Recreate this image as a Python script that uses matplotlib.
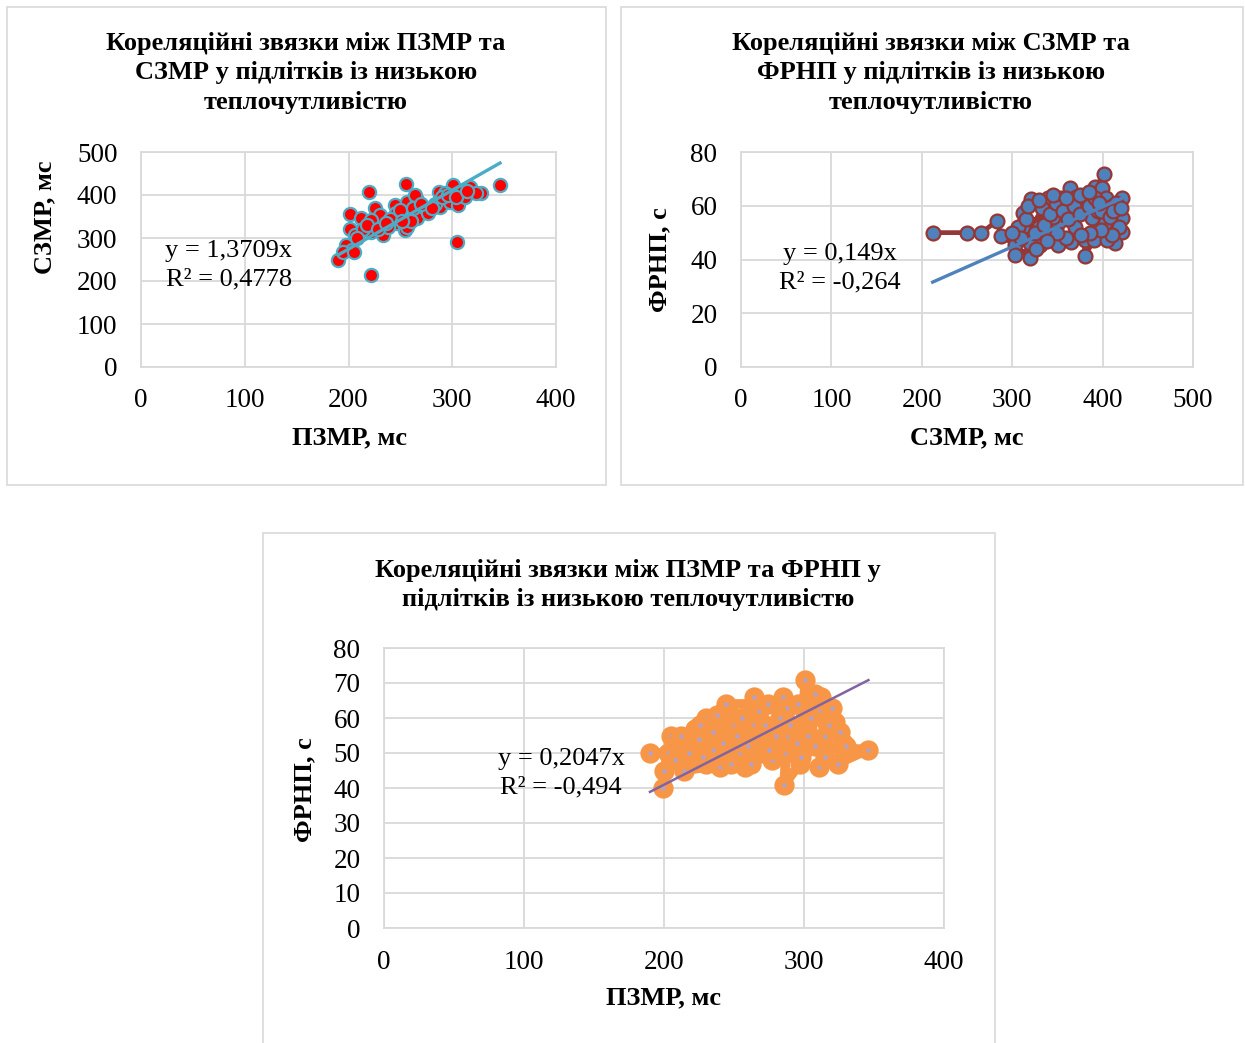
import matplotlib
matplotlib.use("Agg")
import matplotlib.pyplot as plt
from matplotlib.patches import Rectangle
import numpy as np

plt.rcParams['font.family'] = ['Liberation Serif', 'DejaVu Serif']

# ---------------- data ----------------
# Chart 1: ПЗМР (x) vs СЗМР (y)
pzmr_1 = [190, 222, 220, 255, 346, 305, 201, 201, 198, 203, 212, 206, 226, 230, 222,
          233, 245, 246, 246, 254, 256, 266, 264, 266, 277, 288, 287, 298, 301, 306,
          309, 317, 328, 323, 293, 214, 222, 195, 205, 256, 238, 260, 283, 312,
          218, 228, 240, 250, 262, 270, 280, 290, 296, 304, 314, 236, 208, 252]
szmr_1 = [250, 214, 407, 426, 423, 290, 355, 322, 284, 272, 346, 307, 369, 353, 315,
          307, 377, 357, 334, 319, 384, 388, 400, 346, 357, 373, 408, 384, 423, 377,
          408, 419, 404, 404, 404, 322, 341, 268, 268, 326, 326, 340, 380, 395,
          330, 320, 345, 365, 370, 378, 370, 395, 400, 395, 410, 335, 300, 340]
slope_1 = 1.3709
r2_1 = "0,4778"

# Chart 2: СЗМР (x) vs ФРНП (y)
szmr_2 = [212, 250, 266, 283, 288, 303, 320, 312, 321, 340, 303, 331, 354, 364, 371,
          380, 312, 392, 402, 399, 404, 421, 421, 421, 414, 403, 380, 380, 370, 351,
          344, 351, 333, 355, 388, 390, 405, 320, 365, 330, 345, 395, 410,
          306, 315, 325, 335, 342, 348, 356, 362, 368, 375, 385, 392, 398, 408, 415,
          418, 410, 398, 386, 376, 360, 350, 338, 326, 310, 300, 318, 330, 345, 360,
          375, 385, 396, 412, 420]
frnp_2 = [50, 50, 50, 54.3, 48.7, 45.4, 40.4, 57.2, 62.4, 62.8, 41.7, 45.4, 62.8, 66.5, 63.4,
          62.8, 52.2, 67, 71.7, 66.5, 62.8, 62.8, 55.3, 50.4, 46, 53.5, 41.4, 47.3, 52.2, 53.5,
          49.1, 45.4, 59, 59, 55.3, 47.3, 47.3, 46, 46.6, 52, 56, 58, 60,
          52, 55, 50, 53, 57, 61, 58, 55, 60, 57, 60, 63, 58, 56, 61,
          52, 49, 51, 50, 49, 48, 50, 47, 44, 48, 50, 60, 62, 64, 63,
          64, 65, 61, 58, 59]
slope_2 = 0.149
r2_2 = "-0,264"

# Chart 3: ПЗМР (x) vs ФРНП (y)
pzmr_3 = [190, 203, 200, 199, 205, 222, 222, 230, 230, 235, 245, 246, 250, 254, 264,
          264, 266, 277, 285, 288, 288, 287, 286, 297, 301, 301, 303, 312, 311, 315,
          311, 322, 328, 324, 346, 210, 240, 258, 270, 293, 215,
          208, 212, 218, 225, 228, 235, 238, 242, 248, 252, 256, 260, 262, 268, 272,
          275, 280, 283, 290, 295, 298, 305, 308, 315, 318, 320, 326, 330, 214, 226,
          244, 274, 296, 308]
frnp_3 = [50, 50, 45, 40, 55, 52, 57, 60, 47, 51, 51, 62, 58, 50, 66,
          58, 53, 48, 66, 63, 55, 50, 41, 47, 71, 62, 55, 66, 62, 55,
          46, 59, 53, 47, 51, 53, 46, 46, 56, 52, 48,
          48, 55, 50, 54, 49, 56, 61, 53, 47, 55, 60, 52, 47, 62, 58,
          51, 55, 60, 58, 53, 49, 60, 52, 49, 58, 63, 56, 52, 45, 58,
          64, 64, 64, 67]
slope_3 = 0.2047
r2_3 = "-0,494"

titles = ["Кореляційні звязки між ПЗМР та\nСЗМР у підлітків із низькою\nтеплочутливістю",
          "Кореляційні звязки між СЗМР та\nФРНП у підлітків із низькою\nтеплочутливістю",
          "Кореляційні звязки між ПЗМР та ФРНП у\nпідлітків із низькою теплочутливістю"]
xlabels = ["ПЗМР, мс", "СЗМР, мс", "ПЗМР, мс"]
ylabels = ["СЗМР, мс", "ФРНП, с", "ФРНП, с"]

# ---------------- figure ----------------
W, H = 1245, 1043
fig = plt.figure(figsize=(W / 100, H / 100), dpi=100)

def fx(px):
    return px / W

def fy(py):
    return 1 - py / H

def axes_px(l, t, r, b):
    return fig.add_axes([fx(l), fy(b), fx(r) - fx(l), fy(t) - fy(b)])

# panel borders
for (l, t, r, b) in [(7, 7, 606, 485), (621, 7, 1243, 485), (263, 533, 995, 1060)]:
    fig.patches.append(Rectangle((fx(l), fy(b)), fx(r) - fx(l), fy(t) - fy(b),
                                 transform=fig.transFigure, fill=False,
                                 edgecolor='#d9d9d9', lw=1.2))

grid_c = '#d9d9d9'
TICK_FS = 19.5
LAB_FS = 19
TITLE_FS = 19
EQ_FS = 19

def style(ax, xlim, xt, ylim, yt, xpad, ypad):
    ax.set_xlim(*xlim)
    ax.set_ylim(*ylim)
    ax.set_xticks(xt)
    ax.set_yticks(yt)
    ax.grid(True, color=grid_c, lw=1.3)
    ax.set_axisbelow(True)
    for s in ax.spines.values():
        s.set_color(grid_c)
        s.set_linewidth(1.3)
    ax.tick_params(length=0, labelsize=TICK_FS)
    ax.tick_params(axis='x', pad=xpad)
    ax.tick_params(axis='y', pad=ypad)

# Chart 1
ax1 = axes_px(141, 152, 556, 367)
style(ax1, (0, 400), np.arange(0, 401, 100), (0, 500), np.arange(0, 501, 100), 15, 17)
ax1.plot(pzmr_1, szmr_1, ls='none', marker='o', ms=9.5, mfc='#ff0000',
         mec='#4bacc6', mew=1.6, zorder=3)
xs1 = np.array([min(pzmr_1), max(pzmr_1)])
ax1.plot(xs1, slope_1 * xs1, color='#4bacc6', lw=2.4, zorder=4)

# Chart 2
ax2 = axes_px(741, 152, 1193, 367)
style(ax2, (0, 500), np.arange(0, 501, 100), (0, 80), np.arange(0, 81, 20), 15, 17)
ax2.plot(szmr_2, frnp_2, ls='-', color='#953735', lw=3.4, marker='o', ms=10,
         mfc='#4f81bd', mec='#953735', mew=1.6, zorder=3)
xs2 = np.array([min(szmr_2), max(szmr_2)])
ax2.plot(xs2, slope_2 * xs2, color='#4f81bd', lw=2.4, zorder=4)

# Chart 3
ax3 = axes_px(384, 648, 944, 928)
style(ax3, (0, 400), np.arange(0, 401, 100), (0, 80), np.arange(0, 81, 10), 16, 17)
ax3.plot(pzmr_3, frnp_3, ls='-', color='#f79646', lw=7, marker='o', ms=9,
         mfc='#b3a2c7', mec='#f79646', mew=5.6, zorder=3)
xs3 = np.array([min(pzmr_3), max(pzmr_3)])
ax3.plot(xs3, slope_3 * xs3, color='#8064a2', lw=1.8, zorder=4)

# titles
fig.text(fx(306), fy(73), titles[0], ha='center', va='center', fontsize=TITLE_FS,
         fontweight='bold', linespacing=1.36)
fig.text(fx(931), fy(73), titles[1], ha='center', va='center', fontsize=TITLE_FS,
         fontweight='bold', linespacing=1.36)
fig.text(fx(628), fy(585), titles[2], ha='center', va='center', fontsize=TITLE_FS,
         fontweight='bold', linespacing=1.36)

# axis labels
fig.text(fx(349), fy(438), xlabels[0], ha='center', va='center', fontsize=LAB_FS, fontweight='bold')
fig.text(fx(967), fy(438), xlabels[1], ha='center', va='center', fontsize=LAB_FS, fontweight='bold')
fig.text(fx(664), fy(998), xlabels[2], ha='center', va='center', fontsize=LAB_FS, fontweight='bold')
fig.text(fx(45), fy(217), ylabels[0], ha='center', va='center', fontsize=LAB_FS, fontweight='bold', rotation=90)
fig.text(fx(660), fy(260), ylabels[1], ha='center', va='center', fontsize=LAB_FS, fontweight='bold', rotation=90)
fig.text(fx(305), fy(790), ylabels[2], ha='center', va='center', fontsize=LAB_FS, fontweight='bold', rotation=90)

# equations
def eq(slope, r2):
    return ("y = " + f"{slope}".replace('.', ',') + "x\nR² = " + r2)

fig.text(fx(229), fy(265), eq(slope_1, r2_1), ha='center', va='center', fontsize=EQ_FS, linespacing=1.36)
fig.text(fx(840), fy(268), eq(slope_2, r2_2), ha='center', va='center', fontsize=EQ_FS, linespacing=1.36)
fig.text(fx(561), fy(773), eq(slope_3, r2_3), ha='center', va='center', fontsize=EQ_FS, linespacing=1.36)

fig.savefig("out.png", dpi=100, facecolor='white')
